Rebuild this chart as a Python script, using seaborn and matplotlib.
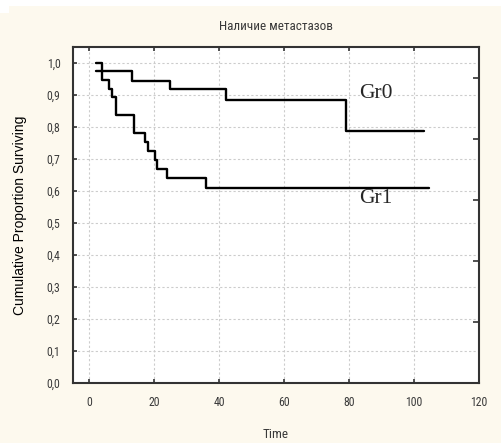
import numpy as np
import pandas as pd
import matplotlib
matplotlib.use("Agg")
import matplotlib.pyplot as plt
from matplotlib import font_manager
import seaborn as sns

# ---- data ----
gr0_time = [2.0, 13.3, 25.0, 42.0, 79.2, 103.0]
gr0_surv = [0.974, 0.945, 0.918, 0.884, 0.787, 0.787]

gr1_time = [2.0, 3.8, 6.2, 7.1, 8.2, 13.9, 17.3, 18.2, 20.2, 20.8, 23.9, 35.9, 104.6]
gr1_surv = [1.0, 0.948, 0.920, 0.893, 0.836, 0.780, 0.752, 0.725, 0.697, 0.668, 0.640, 0.610, 0.610]

group_names = ["Gr0", "Gr1"]
x_ticks = [0, 20, 40, 60, 80, 100, 120]
y_ticks = [0.0, 0.1, 0.2, 0.3, 0.4, 0.5, 0.6, 0.7, 0.8, 0.9, 1.0]
y_ticklabels = ["0,0", "0,1", "0,2", "0,3", "0,4", "0,5", "0,6", "0,7", "0,8", "0,9", "1,0"]
title_text = "Наличие метастазов"
x_label = "Time"
y_label = "Cumulative Proportion Surviving"

df = pd.concat([
    pd.DataFrame({"time": gr0_time, "surv": gr0_surv, "group": group_names[0]}),
    pd.DataFrame({"time": gr1_time, "surv": gr1_surv, "group": group_names[1]}),
])

sns.set_theme(style="white")
avail = {f.name for f in font_manager.fontManager.ttflist}
narrow = next((f for f in ["Liberation Sans Narrow", "DejaVu Sans Condensed", "Roboto Condensed",
                           "Liberation Sans"] if f in avail), "DejaVu Sans")
sans = "Liberation Sans" if "Liberation Sans" in avail else "DejaVu Sans"
serif = "Liberation Serif" if "Liberation Serif" in avail else "DejaVu Serif"
plt.rcParams["font.family"] = [sans, "DejaVu Sans"]

cream = "#fdf9ee"
fig = plt.figure(figsize=(5.02, 4.43), dpi=100, facecolor=cream)
# white strip at the very top, as in the reference
fig.patches.append(plt.Rectangle((0, 1 - 6 / 443), 1, 6 / 443, transform=fig.transFigure,
                                 facecolor="white", edgecolor="none", zorder=0))
fig.patches.append(plt.Rectangle((0, 1 - 13 / 443), 9 / 502, 13 / 443, transform=fig.transFigure,
                                 facecolor="white", edgecolor="none", zorder=0))
ax = fig.add_axes([73 / 502, 60 / 443, (479 - 73) / 502, (383 - 47) / 443])
ax.set_facecolor("white")

for g in group_names:
    sub = df[df["group"] == g]
    sns.lineplot(data=sub, x="time", y="surv", ax=ax, color="black", linewidth=1.7,
                 drawstyle="steps-post", legend=False, estimator=None, sort=False)

ax.set_xlim(-5, 120)
ax.set_ylim(0, 1.05)
ax.set_xticks(x_ticks)
ax.set_xticklabels([str(v) for v in x_ticks], fontfamily=narrow, fontsize=8.5, color="#3a3a3a")
ax.set_yticks(y_ticks)
ax.set_yticklabels(y_ticklabels, fontfamily=narrow, fontsize=8.5, color="#3a3a3a")
ax.tick_params(axis="both", direction="in", length=3, width=1.2, color="#333333", pad=9,
               top=True, right=False, left=True, bottom=True)
ax.grid(True, color="#cccccc", linestyle=(0, (2, 2)), linewidth=0.8)

# right-side ticks (different spacing, as in reference)
sec = ax.secondary_yaxis("right")
sec.set_yticks(np.arange(6) * 0.1908)
sec.tick_params(direction="in", length=4, width=1.2, color="#333333", labelright=False)
sec.spines["right"].set_visible(False)

for s in ax.spines.values():
    s.set_visible(True)
    s.set_color("#333333")
    s.set_linewidth(1.5)

ax.set_xlabel(x_label, fontfamily=narrow, fontsize=9.5, color="#3a3a3a", labelpad=14)
ax.set_ylabel(y_label, fontsize=10, color="black", labelpad=14)
ax.set_title(title_text, fontfamily=narrow, fontsize=9.5, color="#3a3a3a", pad=12)

ax.text(83, 0.906, group_names[0], fontfamily=serif, fontsize=15.5, va="center", ha="left")
ax.text(83, 0.578, group_names[1], fontfamily=serif, fontsize=15.5, va="center", ha="left")

fig.savefig("out.png", dpi=100, facecolor=cream)
